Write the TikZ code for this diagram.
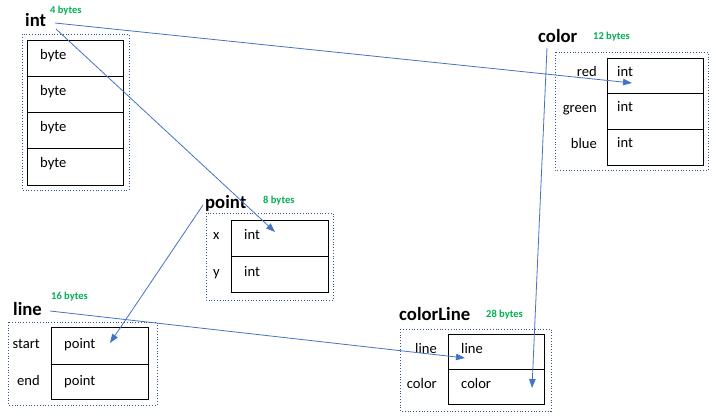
\documentclass[tikz,border=0pt]{standalone}
\usepackage{fontspec}
\setmainfont{Carlito}
\usetikzlibrary{arrows.meta}
\definecolor{arrowblue}{HTML}{4472C4}
\definecolor{dotblue}{HTML}{2F5597}
\definecolor{bytegreen}{HTML}{00B050}
\tikzset{
  grp/.style={draw=dotblue, dotted, line width=0.8pt},
  cell/.style={draw=black, line width=0.9pt},
  title/.style={anchor=base west, inner sep=0pt, font=\fontsize{18.7}{20}\selectfont\bfseries},
  size/.style={anchor=base west, inner sep=0pt, text=bytegreen, font=\fontsize{10.5}{12}\selectfont\bfseries},
  val/.style={anchor=base west, inner sep=0pt, font=\fontsize{14.6}{16}\selectfont},
  lbl/.style={anchor=base east, inner sep=0pt, font=\fontsize{14.6}{16}\selectfont},
  ptr/.style={draw=arrowblue, line width=0.8pt, -{Triangle[length=9pt,width=6.5pt]}}
}
\begin{document}
\begin{tikzpicture}[x=1pt,y=-1pt]
\useasboundingbox (0,0) rectangle (716,420);
% ---------- int ----------
\node[title] (tint) at (25,27) {int};
\node[size] at (50,14) {4 bytes};
\draw[grp] (22,34) rectangle (129,190);
\draw[cell] (27,40) rectangle (123,185);
\foreach \y in {76,112,148} \draw[cell] (27,\y) -- (123,\y);
\foreach \y in {40,76,112,148} \node[val] at (40,\y+19.5) {byte};
% ---------- color ----------
\node[title] (tcolor) at (538,43) {color};
\node[size] at (593,40) {12 bytes};
\draw[grp] (555,52) rectangle (708,170);
\draw[cell] (607,58) rectangle (703,165);
\foreach \y in {93,129} \draw[cell] (607,\y) -- (703,\y);
\node[lbl] at (597,77) {red};
\node[lbl] at (597,113) {green};
\node[lbl] at (597,149) {blue};
\foreach \y in {58,93,129} \node[val] at (617,\y+19) {int};
% ---------- point ----------
\node[title] (tpoint) at (205,208) {point};
\node[size] at (263,204) {8 bytes};
\draw[grp] (206,213) rectangle (333,300);
\draw[cell] (231,220) rectangle (328,292);
\draw[cell] (231,256) -- (328,256);
\node[val] at (213,240) {x};
\node[val] at (213,276) {y};
\node[val] at (244,240) {int};
\node[val] at (244,276) {int};
% ---------- line ----------
\node[title] (tline) at (13,315) {line};
\node[size] at (51,299) {16 bytes};
\draw[grp] (8,322) rectangle (157,405);
\draw[cell] (51,327) rectangle (148,399);
\draw[cell] (51,364) -- (148,364);
\node[lbl] at (40,348) {start};
\node[lbl] at (40,385) {end};
\node[val] at (64,348) {point};
\node[val] at (64,385) {point};
% ---------- colorLine ----------
\node[title] (tcolorline) at (399,320) {colorLine};
\node[size] at (486,317) {28 bytes};
\draw[grp] (400,329) rectangle (551,411);
\draw[cell] (448,334) rectangle (544,404);
\draw[cell] (448,369) -- (544,369);
\node[lbl] at (437,353) {line};
\node[lbl] at (437,388) {color};
\node[val] at (461,353) {line};
\node[val] at (461,388) {color};
% ---------- pointers ----------
\coordinate (s1) at (55,23);
\coordinate (s2) at (56,29);
\coordinate (s3) at (547,48);
\coordinate (s4) at (203,205);
\coordinate (s5) at (50,311);
\coordinate (ered) at (632,83);
\coordinate (ex) at (275,232);
\coordinate (ecolor) at (532,388);
\coordinate (estart) at (110,343);
\coordinate (eline) at (465,358);
\draw[ptr] (s1) -- (ered);
\draw[ptr] (s2) -- (ex);
\draw[ptr] (s3) -- (ecolor);
\draw[ptr] (s4) -- (estart);
\draw[ptr] (s5) -- (eline);
\end{tikzpicture}
\end{document}
